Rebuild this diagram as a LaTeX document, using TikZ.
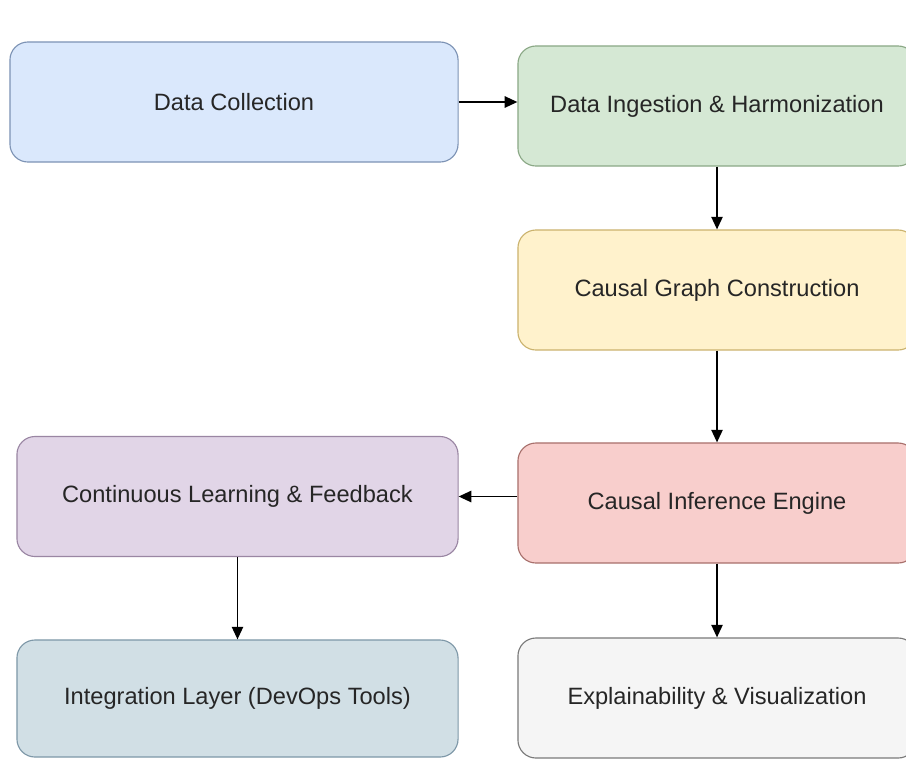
\documentclass[tikz,border=0pt]{standalone}
\usepackage{fontspec}
\setmainfont{Liberation Sans}
\usepackage{xcolor}
\usepackage{tikz}
\usetikzlibrary{arrows.meta,positioning,calc}
\definecolor{collectfill}{HTML}{DAE8FC}
\definecolor{collectline}{HTML}{7D93B5}
\definecolor{ingestfill}{HTML}{D5E8D4}
\definecolor{ingestline}{HTML}{8BA886}
\definecolor{graphfill}{HTML}{FFF2CC}
\definecolor{graphline}{HTML}{CBB36E}
\definecolor{inferfill}{HTML}{F8CECC}
\definecolor{inferline}{HTML}{A8706C}
\definecolor{learnfill}{HTML}{E1D5E7}
\definecolor{learnline}{HTML}{9A86A3}
\definecolor{integfill}{HTML}{D1DFE5}
\definecolor{integline}{HTML}{7E98A8}
\definecolor{explainfill}{HTML}{F5F5F5}
\definecolor{explainline}{HTML}{7A7A7A}

\begin{document}
\begin{tikzpicture}[
      x=0.025cm, y=-0.025cm,
      box/.style={rounded corners=0.45cm, thick, inner sep=0pt, align=center,
        minimum height=3cm, text=black!85, font=\fontsize{16.8}{20}\selectfont},
      wide/.style={box, minimum width=11.2cm},
      narrow/.style={box, minimum width=9.95cm},
      arr/.style={-{Triangle[length=9pt,width=8pt]}, line width=1.3pt, draw=black}
    ]
      \clip (0,0) rectangle (906,758);
      \fill[white] (0,0) rectangle (906,758);

      \node[wide, fill=collectfill, draw=collectline] (collect) at (234,102) {Data Collection};
      \node[narrow, fill=ingestfill, draw=ingestline] (ingest) at (717,106) {Data Ingestion \& Harmonization};
      \node[narrow, fill=graphfill, draw=graphline] (graph) at (717,290) {Causal Graph Construction};
      \node[narrow, fill=inferfill, draw=inferline] (infer) at (717,503) {Causal Inference Engine};
      \node[wide, minimum width=11.025cm, fill=learnfill, draw=learnline] (learn) at (237.5,496.5) {Continuous Learning \& Feedback};
      \node[wide, minimum width=11.025cm, minimum height=2.925cm, fill=integfill, draw=integline] (integ) at (237.5,698.5) {Integration Layer (DevOps Tools)};
      \node[narrow, fill=explainfill, draw=explainline] (explain) at (717,698) {Explainability \& Visualization};

      \draw[arr] (collect.east) -- (collect.east -| ingest.west);
      \draw[arr] (ingest) -- (graph);
      \draw[arr] (graph) -- (infer);
      \draw[arr] (infer.west |- learn.east) -- (learn.east);
      \draw[arr] (learn) -- (integ);
      \draw[arr] (infer) -- (explain);
    \end{tikzpicture}
\end{document}
